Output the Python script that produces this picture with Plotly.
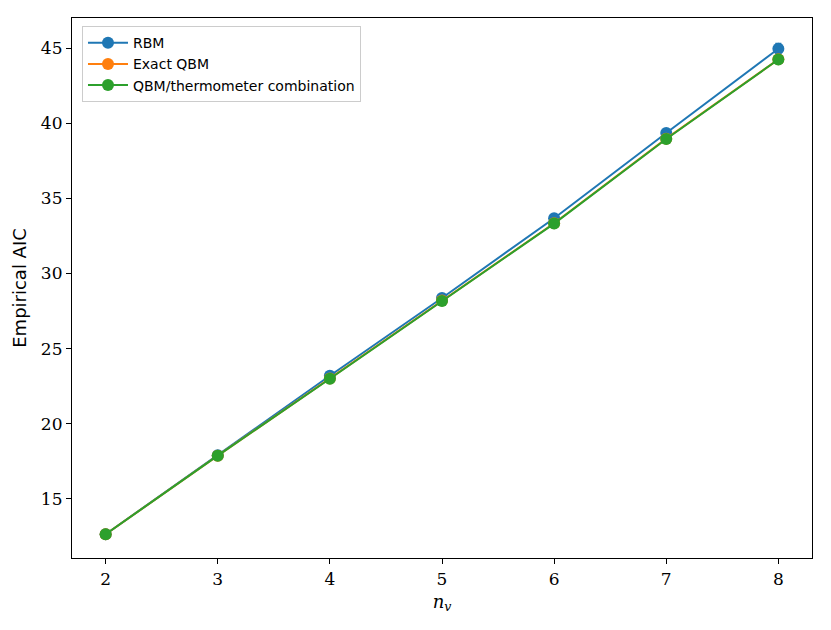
import plotly.graph_objects as go

n_v = [2, 3, 4, 5, 6, 7, 8]
rbm = [12.65, 17.9, 23.2, 28.37, 33.68, 39.35, 44.95]
rbm_err = [0.08, 0.1, 0.12, 0.15, 0.2, 0.2, 0.35]
exact_qbm = [12.65, 17.88, 23.02, 28.2, 33.34, 38.97, 44.25]
exact_err = [0.05, 0.06, 0.08, 0.1, 0.12, 0.12, 0.15]
combo = [12.65, 17.88, 23.0, 28.17, 33.32, 38.95, 44.24]
combo_err = [0.05, 0.06, 0.08, 0.1, 0.12, 0.12, 0.15]
y_ticks = [15, 20, 25, 30, 35, 40, 45]

series = [
    ("RBM", rbm, rbm_err, "#1f77b4"),
    ("Exact QBM", exact_qbm, exact_err, "#ff7f0e"),
    ("QBM/thermometer combination", combo, combo_err, "#2ca02c"),
]

fig = go.Figure()
for name, y, err, color in series:
    fig.add_trace(go.Scatter(
        x=n_v, y=y, name=name, mode="lines+markers",
        line=dict(color=color, width=2),
        marker=dict(color=color, size=12),
        error_y=dict(type="data", array=err, visible=True, color=color,
                     thickness=1.5, width=3),
    ))

# the page body adds an 8px offset, so margins are shifted to compensate
fig.update_layout(
    width=831, height=630,
    margin=dict(l=64, r=27, t=10, b=80),
    paper_bgcolor="white", plot_bgcolor="white",
    font=dict(family="DejaVu Serif", size=16, color="black"),
    legend=dict(
        x=0.0135, y=0.985, xanchor="left", yanchor="top",
        bgcolor="rgba(255,255,255,0.8)", bordercolor="#cccccc", borderwidth=1,
        font=dict(family="DejaVu Sans", size=14),
        tracegroupgap=0, itemwidth=40,
    ),
    showlegend=True,
)
fig.update_xaxes(
    range=[1.7, 8.3], tickmode="array", tickvals=n_v, automargin=False,
    ticks="outside", ticklen=5, tickwidth=1, tickcolor="black",
    showline=True, linecolor="black", linewidth=1.2, mirror=True,
    showgrid=False, zeroline=False,
    tickfont=dict(family="DejaVu Serif", size=17),
    title=dict(text="<i>n</i><sub><i>v</i></sub>", font=dict(family="DejaVu Serif", size=18), standoff=7),
)
fig.update_yaxes(
    range=[11.07, 47.0], tickmode="array", tickvals=y_ticks, automargin=False,
    ticks="outside", ticklen=5, tickwidth=1, tickcolor="black",
    showline=True, linecolor="black", linewidth=1.2, mirror=True,
    showgrid=False, zeroline=False,
    tickfont=dict(family="DejaVu Serif", size=17),
    title=dict(text="Empirical AIC", font=dict(family="DejaVu Sans", size=18), standoff=9),
)

fig.write_html("out.html")
